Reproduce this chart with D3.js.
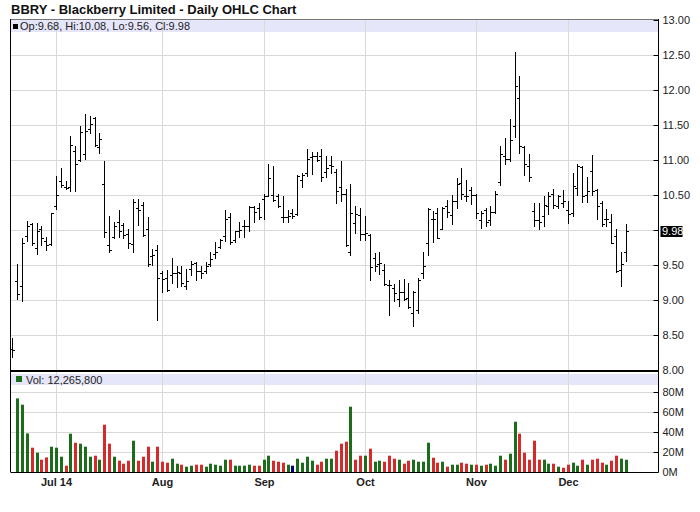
<!DOCTYPE html>
<html>
<head>
<meta charset="utf-8">
<script src="https://cdn.jsdelivr.net/npm/d3@7/dist/d3.min.js"></script>
<style>
  html, body { margin: 0; padding: 0; background: #fff; }
  svg { display: block; font-family: "Liberation Sans", Arial, sans-serif; }
</style>
</head>
<body>
<svg id="chart" width="700" height="512"></svg>
<script>
const dates = [
  "2014-06-18","2014-06-19","2014-06-20","2014-06-23","2014-06-24","2014-06-25","2014-06-26","2014-06-27","2014-06-30",
  "2014-07-01","2014-07-02","2014-07-03","2014-07-07","2014-07-08","2014-07-09","2014-07-10","2014-07-11",
  "2014-07-14","2014-07-15","2014-07-16","2014-07-17","2014-07-18","2014-07-21","2014-07-22","2014-07-23",
  "2014-07-24","2014-07-25","2014-07-28","2014-07-29","2014-07-30","2014-07-31",
  "2014-08-01","2014-08-04","2014-08-05","2014-08-06","2014-08-07","2014-08-08","2014-08-11","2014-08-12",
  "2014-08-13","2014-08-14","2014-08-15","2014-08-18","2014-08-19","2014-08-20","2014-08-21","2014-08-22",
  "2014-08-25","2014-08-26","2014-08-27","2014-08-28","2014-08-29",
  "2014-09-02","2014-09-03","2014-09-04","2014-09-05","2014-09-08","2014-09-09","2014-09-10","2014-09-11",
  "2014-09-12","2014-09-15","2014-09-16","2014-09-17","2014-09-18","2014-09-19","2014-09-22","2014-09-23",
  "2014-09-24","2014-09-25","2014-09-26","2014-09-29","2014-09-30",
  "2014-10-01","2014-10-02","2014-10-03","2014-10-06","2014-10-07","2014-10-08","2014-10-09","2014-10-10",
  "2014-10-13","2014-10-14","2014-10-15","2014-10-16","2014-10-17","2014-10-20","2014-10-21","2014-10-22",
  "2014-10-23","2014-10-24","2014-10-27","2014-10-28","2014-10-29","2014-10-30","2014-10-31",
  "2014-11-03","2014-11-04","2014-11-05","2014-11-06","2014-11-07","2014-11-10","2014-11-11","2014-11-12",
  "2014-11-13","2014-11-14","2014-11-17","2014-11-18","2014-11-19","2014-11-20","2014-11-21","2014-11-24",
  "2014-11-25","2014-11-26","2014-11-28",
  "2014-12-01","2014-12-02","2014-12-03","2014-12-04","2014-12-05","2014-12-08","2014-12-09","2014-12-10",
  "2014-12-11","2014-12-12","2014-12-15","2014-12-16","2014-12-17"
];

const opens = [
  8.30, 9.27, 9.20, 9.91,10.09, 9.74,10.02, 9.85, 9.80,10.34,10.70,10.61,10.61,11.13,11.00,11.09,
 11.44,11.60,11.18,10.65, 9.78, 9.90,10.11,10.07, 9.94, 9.80,10.31,10.36,10.01, 9.63, 9.71, 9.38,
  9.32, 9.36, 9.39, 9.39, 9.20, 9.45, 9.53, 9.41, 9.41, 9.52, 9.66, 9.76, 9.91,10.18, 9.86, 9.99,
 10.05,10.06,10.33,10.32,10.45,10.48,10.50,10.48,10.19,10.18,10.24,10.23,10.71,10.81,11.04,11.06,
 11.05,10.83,10.93,10.83,10.61,10.51, 9.68,10.10,10.21, 9.94, 9.93, 9.60, 9.52, 9.43, 9.22, 9.17,
  9.01, 9.12, 9.03, 8.81, 8.86, 9.38, 9.81,10.16,10.24,10.02,10.34,10.21,10.42,10.67,10.48,10.57,
 10.50,10.14,10.28,10.14,10.26,10.68,11.05,11.02,11.49,11.88,11.19,10.91,10.27,10.14,10.20,10.34,
 10.51,10.35,10.38,10.29,10.24,10.60,10.90,10.50,10.84,10.57,10.39,10.15,10.11, 9.91, 9.43, 9.68
];
const highs = [
  8.46, 9.51, 9.88,10.13,10.10,10.10,10.06, 9.90,10.25,10.77,10.88,10.70,11.34,11.20,11.48,11.66,
 11.63,11.61,11.38,10.99,10.20,10.12,10.29,10.10,10.01,10.44,10.44,10.40,10.18, 9.73, 9.79, 9.41,
  9.43, 9.60, 9.49, 9.49, 9.44, 9.55, 9.54, 9.49, 9.54, 9.69, 9.83, 9.87,10.28,10.24, 9.99,10.11,
 10.14,10.34,10.34,10.38,10.51,10.94,10.91,10.51,10.48,10.29,10.30,10.79,10.81,11.16,11.11,11.12,
 11.15,11.05,11.06,10.87,10.99,10.58,10.66,10.34,10.32,10.20, 9.94, 9.67, 9.68, 9.51, 9.29, 9.23,
  9.28, 9.30, 9.25, 9.13, 9.31, 9.68,10.32,10.27,10.32,10.33,10.43,10.50,10.74,10.88,10.71,10.62,
 10.52,10.27,10.31,10.34,10.56,11.20,11.32,11.59,12.54,12.20,11.20,11.09,10.39,10.39,10.49,10.54,
 10.59,10.50,10.57,10.41,10.82,10.94,10.91,10.76,11.07,10.58,10.41,10.30,10.23,10.01, 9.69,10.08
];
const lows = [
  8.18, 9.01, 8.98, 9.84, 9.79, 9.65, 9.79, 9.72, 9.78,10.30,10.61,10.58,10.56,10.55,10.99,11.01,
 11.38,11.20,11.10, 9.90, 9.68, 9.89, 9.90, 9.89, 9.74, 9.69,10.07, 9.91, 9.49, 9.50, 8.71, 9.11,
  9.13, 9.25, 9.19, 9.20, 9.16, 9.36, 9.29, 9.31, 9.39, 9.49, 9.60, 9.74, 9.85, 9.80, 9.83, 9.90,
  9.90, 9.99,10.11,10.16,10.15,10.48,10.41,10.33,10.11,10.12,10.17,10.21,10.61,10.77,10.80,10.98,
 10.70,10.75,10.82,10.39,10.41, 9.77, 9.64, 9.96, 9.86, 9.86, 9.29, 9.41, 9.37, 9.21, 8.78, 8.98,
  8.92, 9.00, 8.88, 8.63, 8.81, 9.31, 9.64, 9.83, 9.88,10.01,10.19,10.08,10.32,10.44,10.41,10.37,
 10.17,10.03,10.05,10.07,10.24,10.64,10.94,10.98,11.33,11.10,10.79,10.70,10.05,10.02,10.06,10.23,
 10.32,10.32,10.33,10.10,10.20,10.50,10.40,10.40,10.50,10.15,10.05,10.06, 9.81, 9.40, 9.20, 9.56
];
const closes = [
  8.29, 9.09, 9.82,10.05, 9.82, 9.98, 9.88, 9.79,10.24,10.50,10.64,10.60,11.21,10.94,11.40,11.41,
 11.51,11.21,11.30, 9.97, 9.71,10.05, 9.99, 9.93, 9.82,10.40,10.29, 9.93, 9.51, 9.64, 9.32, 9.30,
  9.14, 9.39, 9.40, 9.24, 9.27, 9.52, 9.41, 9.38, 9.49, 9.58, 9.69, 9.86,10.16, 9.83, 9.98,10.00,
 10.06,10.33,10.26,10.19,10.48,10.74,10.43,10.34,10.18,10.20,10.20,10.77,10.79,11.01,11.06,11.00,
 10.75,10.88,10.91,10.56,10.51, 9.79,10.25,10.23, 9.94, 9.96, 9.47, 9.49, 9.53, 9.23, 9.21, 9.10,
  9.12, 9.01, 8.90, 9.11, 9.29, 9.49,10.30,10.16, 9.89,10.31,10.26,10.41,10.66,10.51,10.49,10.50,
 10.24,10.25,10.12,10.26,10.52,11.09,11.02,11.28,12.06,11.20,10.94,10.76,10.14,10.12,10.36,10.49,
 10.36,10.49,10.41,10.23,10.63,10.91,10.48,10.56,10.55,10.34,10.08,10.15, 9.82, 9.42, 9.51, 9.98
];
// volume in millions of shares (first session volume not shown in the source)
const volumes = [
  null, 73.6, 67.3, 38.6, 24.3, 19.3, 12.3, 14.6, 25.3, 24.3, 15.3,  6.3, 38.3, 29.3, 28.3, 25.3,
  15.3, 16.3, 12.3, 47.3, 28.3, 15.3, 11.3,  8.3, 11.3, 31.3, 11.3, 15.3, 25.3, 10.3, 25.3, 10.3,
   9.3, 13.3,  8.3,  7.3,  5.3,  6.3,  7.3,  7.3,  5.3,  8.3,  7.3,  6.3, 12.3, 12.3,  6.3,  6.3,
   6.3,  7.3,  6.3,  6.3, 12.3, 16.3, 11.3, 10.3,  9.3,  7.3,  6.3, 13.3,  9.3, 15.3, 11.3,  7.3,
  10.3, 13.3, 13.3, 21.3, 28.3, 30.3, 65.3, 12.3, 16.3, 16.3, 23.3, 10.3, 11.3, 10.3, 16.3, 13.3,
  12.3,  8.3, 11.3, 12.3, 10.3, 10.3, 29.3, 14.3,  9.3, 10.3,  5.3,  7.3,  7.3,  9.3,  8.3,  7.3,
   7.3,  6.3,  7.3,  8.3,  6.3, 16.3, 12.3, 18.3, 50.3, 38.3, 19.3, 12.3, 31.3, 12.3, 12.3,  8.3,
   8.3,  5.3,  4.3,  7.3,  9.3,  6.3, 12.3,  7.3, 12.3, 13.3,  9.3,  7.3, 11.3, 16.3, 13.3, 12.2658
];

const priceTicks = [8.0, 8.5, 9.0, 9.5, 10.0, 10.5, 11.0, 11.5, 12.0, 12.5, 13.0];
const volumeTicks = [0, 20, 40, 60, 80];
const monthKeys = ["2014-07", "2014-08", "2014-09", "2014-10", "2014-11", "2014-12"];
const monthLabels = ["Jul 14", "Aug", "Sep", "Oct", "Nov", "Dec"];
const titleText = "BBRY - Blackberry Limited - Daily OHLC Chart";

const bars = dates.map((d, i) => ({
  i, date: d, o: opens[i], h: highs[i], l: lows[i], c: closes[i], v: volumes[i]
}));

// ---------- layout ----------
const L = 10.5, R = 658.5;
const pTop = 20, pBot = 370;
const vTop = 372, vBot = 472;
const FONT = '"Liberation Sans", Arial, sans-serif';
const GRID = "#d9d9d9";
const BAND = "#e6e6fa";
const UP = "#1b6d1b", DOWN = "#d62a2a", FLAT = "#00007f";

const svg = d3.select("#chart");

const x = d3.scaleLinear().domain([-0.4, bars.length - 1 + 6.8]).range([L, R]);
const y = d3.scaleLinear().domain([8, 13]).range([pBot, pTop]);
const yv = d3.scaleLinear().domain([0, 80]).range([vBot, vBot - 80]);

const px = i => Math.round(x(i)) + 0.5;
const py = v => Math.round(y(v)) + 0.5;

// title
svg.append("text").attr("x", 11).attr("y", 14)
  .attr("font-size", 13).attr("font-weight", "bold").attr("fill", "#111")
  .text(titleText);

// legend bands
svg.append("rect").attr("x", L).attr("y", pTop).attr("width", R - L).attr("height", 12).attr("fill", BAND);
svg.append("rect").attr("x", L).attr("y", vTop + 2).attr("width", R - L).attr("height", 11).attr("fill", BAND);

// horizontal grid - price
svg.append("g").selectAll("line").data(priceTicks.filter(t => t > 8 && t < 13)).join("line")
  .attr("x1", L).attr("x2", R).attr("y1", d => py(d)).attr("y2", d => py(d))
  .attr("stroke", GRID).attr("stroke-width", 1);
// horizontal grid - volume
svg.append("g").selectAll("line").data(volumeTicks.filter(t => t > 0)).join("line")
  .attr("x1", L).attr("x2", R).attr("y1", d => Math.round(yv(d)) + 0.5).attr("y2", d => Math.round(yv(d)) + 0.5)
  .attr("stroke", GRID).attr("stroke-width", 1);

// month ticks
const monthIdx = monthKeys.map(k => dates.findIndex(d => d.startsWith(k)));
svg.append("g").selectAll("line").data(monthIdx).join("line")
  .attr("x1", d => px(d)).attr("x2", d => px(d)).attr("y1", pTop).attr("y2", vBot)
  .attr("stroke", GRID).attr("stroke-width", 1);

// legend texts
const last = bars[bars.length - 1];
svg.append("rect").attr("x", 13).attr("y", 24).attr("width", 5).attr("height", 5).attr("fill", "#000");
svg.append("text").attr("x", 20).attr("y", 30).attr("font-size", 11).attr("fill", "#222")
  .text(`Op:${last.o.toFixed(2)}, Hi:${last.h.toFixed(2)}, Lo:${last.l.toFixed(2)}, Cl:${last.c.toFixed(2)}`);
svg.append("rect").attr("x", 16).attr("y", vTop + 4).attr("width", 6).attr("height", 6).attr("fill", UP);
svg.append("text").attr("x", 26).attr("y", vTop + 12).attr("font-size", 11).attr("fill", "#222")
  .text("Vol: " + d3.format(",")(Math.round(last.v * 1e6)));

// OHLC bars
const g = svg.append("g").attr("stroke", "#000").attr("stroke-width", 1).attr("fill", "none");
bars.forEach(b => {
  const cx = px(b.i);
  g.append("line").attr("x1", cx).attr("x2", cx).attr("y1", Math.round(y(b.h))).attr("y2", Math.round(y(b.l)) + 1);
  g.append("line").attr("x1", cx - 2.5).attr("x2", cx).attr("y1", py(b.o)).attr("y2", py(b.o));
  g.append("line").attr("x1", cx).attr("x2", cx + 2.5).attr("y1", py(b.c)).attr("y2", py(b.c));
});

// volume bars
svg.append("g").selectAll("rect").data(bars.filter(b => b.v != null)).join("rect")
  .attr("x", b => Math.round(x(b.i)) - 1)
  .attr("width", 3)
  .attr("y", b => yv(b.v))
  .attr("height", b => vBot - yv(b.v))
  .attr("fill", b => {
    const prev = b.i > 0 ? bars[b.i - 1].c : b.c;
    return b.c > prev ? UP : (b.c < prev ? DOWN : FLAT);
  });

// frame
svg.append("line").attr("x1", L).attr("x2", R).attr("y1", pTop - 0.5).attr("y2", pTop - 0.5).attr("stroke", "#777");
svg.append("line").attr("x1", L).attr("x2", L).attr("y1", pTop - 1).attr("y2", vBot).attr("stroke", "#000");
svg.append("line").attr("x1", L - 0.5).attr("x2", R + 0.5).attr("y1", 371).attr("y2", 371).attr("stroke", "#000").attr("stroke-width", 2);

// right price axis
const yAxis = d3.axisRight(y).tickValues(priceTicks).tickFormat(d3.format(".2f"))
  .tickSizeInner(-5).tickSizeOuter(0).tickPadding(4);
const ga = svg.append("g").attr("transform", `translate(${R},0)`).call(yAxis);
ga.select(".domain").attr("stroke", "#000").attr("d", `M0,${pTop - 1}V${vBot}`);
ga.selectAll(".tick line").attr("stroke", "#000");
ga.selectAll(".tick text").attr("font-family", FONT).attr("font-size", 11).attr("fill", "#222")
  .style("display", d => Math.abs(y(d) - y(last.c)) < 8 ? "none" : null);

// last price box
svg.append("rect").attr("x", R + 2).attr("y", Math.round(y(last.c)) - 5).attr("width", 22).attr("height", 11).attr("fill", "#000");
svg.append("text").attr("x", R + 3.5).attr("y", y(last.c)).attr("dy", "0.35em")
  .attr("font-size", 11).attr("fill", "#fff").text(last.c.toFixed(2));

// right volume axis
const vAxis = d3.axisRight(yv).tickValues(volumeTicks).tickFormat(d => d + "M")
  .tickSizeInner(-5).tickSizeOuter(0).tickPadding(4);
const gv = svg.append("g").attr("transform", `translate(${R},0)`).call(vAxis);
gv.select(".domain").remove();
gv.selectAll(".tick line").attr("stroke", "#000");
gv.selectAll(".tick text").attr("font-family", FONT).attr("font-size", 11).attr("fill", "#222");

// bottom axis line and month labels
svg.append("line").attr("x1", L).attr("x2", R).attr("y1", vBot + 0.5).attr("y2", vBot + 0.5).attr("stroke", "#000");
svg.append("g").selectAll("text").data(monthIdx).join("text")
  .attr("x", d => px(d)).attr("y", 486).attr("text-anchor", "middle")
  .attr("font-size", 11).attr("font-weight", "bold").attr("fill", "#222")
  .text((d, k) => monthLabels[k]);
</script>
</body>
</html>
